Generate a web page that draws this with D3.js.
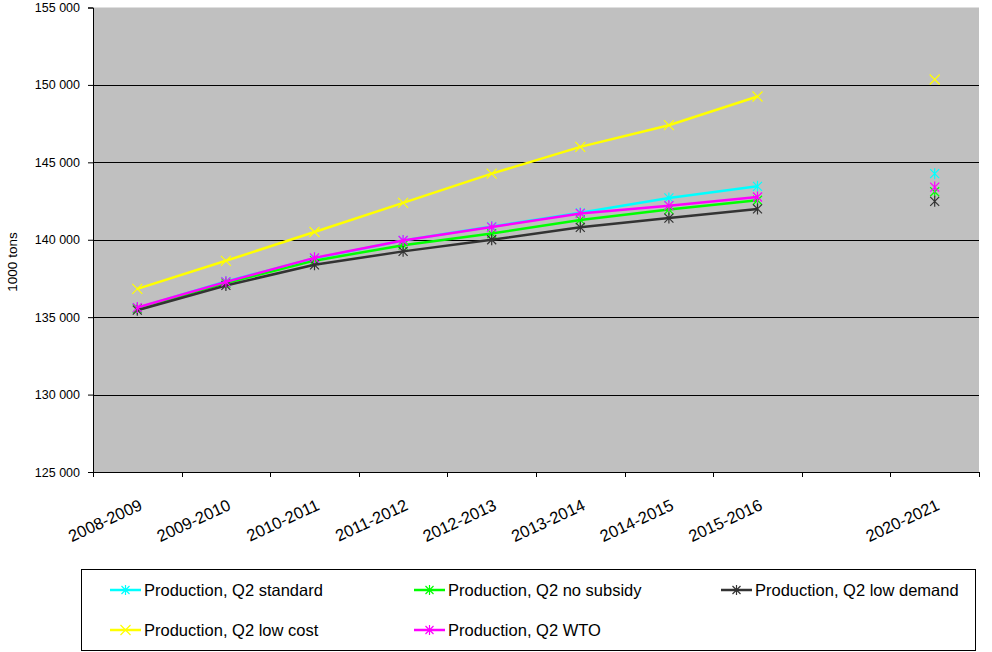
<!DOCTYPE html>
<html>
<head>
<meta charset="utf-8">
<script src="https://cdn.jsdelivr.net/npm/d3@7"></script>
<style>
    body { margin: 0; background: #fff; }
    #chart { width: 992px; height: 652px; }
    text { font-family: "Liberation Sans", Arial, sans-serif; fill: #000; }
</style>
</head>
<body>
<div id="chart"></div>
<script>
// categories (the empty one is the gap between 2015-2016 and 2020-2021)
const categories = ['2008-2009', '2009-2010', '2010-2011', '2011-2012', '2012-2013',
    '2013-2014', '2014-2015', '2015-2016', '', '2020-2021'];

const yTicks = [125000, 130000, 135000, 140000, 145000, 150000, 155000];

// values in 1000 tons
const standard   = [135600, 137300, 138800, 139950, 140850, 141750, 142700, 143450, null, 144270];
const noSubsidy  = [135550, 137200, 138650, 139650, 140400, 141280, 141950, 142550, null, 143100];
const lowDemand  = [135450, 137050, 138380, 139250, 140000, 140800, 141400, 141990, null, 142480];
const lowCost    = [136830, 138640, 140500, 142380, 144270, 146000, 147400, 149250, null, 150350];
const wto        = [135620, 137280, 138830, 139950, 140820, 141700, 142200, 142760, null, 143400];

const seriesNames = ['Production, Q2 standard', 'Production, Q2 no subsidy', 'Production, Q2 low demand',
    'Production, Q2 low cost', 'Production, Q2 WTO'];
const seriesColors = ['#00ffff', '#00ff00', '#333333', '#ffff00', '#ff00ff'];
const seriesMarkers = ['star', 'star', 'star', 'cross', 'star'];
const seriesValues = [standard, noSubsidy, lowDemand, lowCost, wto];

class ProductionChart {
    constructor(selector) {
        this.container = document.querySelector(selector);
        this.svg = d3.select(this.container)
            .append('svg')
            .attr('width', 992)
            .attr('height', 652);

        this.plot = { left: 93, right: 979, top: 7.5, bottom: 472 };

        this.x = d3.scaleBand()
            .domain(categories)
            .range([this.plot.left, this.plot.right]);
        this.y = d3.scaleLinear()
            .domain([125000, 155000])
            .range([this.plot.bottom, this.plot.top]);

        this.series = seriesNames.map((name, i) => ({
            name: name,
            color: seriesColors[i],
            marker: seriesMarkers[i],
            values: seriesValues[i].map((v, j) => ({ cat: categories[j], value: v }))
        }));

        this._drawPlotArea();
        this._drawAxes();
        this._drawSeries();
        this._drawLegend();
    }

    _drawPlotArea() {
        const p = this.plot;
        this.svg.append('rect')
            .attr('x', p.left)
            .attr('y', p.top)
            .attr('width', p.right - p.left)
            .attr('height', p.bottom - p.top)
            .attr('fill', '#c0c0c0');

        this.svg.append('g')
            .attr('class', 'grid')
            .selectAll('line')
            .data(yTicks.slice(1, -1))
            .join('line')
            .attr('x1', p.left)
            .attr('x2', p.right)
            .attr('y1', d => Math.round(this.y(d)) + 0.5)
            .attr('y2', d => Math.round(this.y(d)) + 0.5)
            .attr('stroke', '#000')
            .attr('stroke-width', 1);
    }

    _drawAxes() {
        const p = this.plot;
        const fmt = d3.formatLocale({ decimal: '.', thousands: ' ', grouping: [3], currency: ['', ''] }).format(',');

        const yAxis = this.svg.append('g')
            .attr('transform', `translate(${p.left},0)`)
            .call(d3.axisLeft(this.y).tickValues(yTicks).tickFormat(fmt).tickSize(5).tickPadding(8));
        yAxis.select('.domain').attr('stroke', '#000');
        yAxis.selectAll('.tick text')
            .style('font-size', '12.5px')
            .style('font-family', '"Liberation Sans", Arial, sans-serif');

        // category axis: ticks between the bands, labels at the centres
        const xg = this.svg.append('g').attr('class', 'x-axis');
        xg.append('line')
            .attr('x1', p.left).attr('x2', p.right)
            .attr('y1', p.bottom + 0.5).attr('y2', p.bottom + 0.5)
            .attr('stroke', '#000');

        const bounds = categories.map(c => this.x(c)).concat([p.right]);
        xg.selectAll('.tick')
            .data(bounds)
            .join('line')
            .attr('class', 'tick')
            .attr('x1', d => Math.round(d) + 0.5)
            .attr('x2', d => Math.round(d) + 0.5)
            .attr('y1', p.bottom)
            .attr('y2', p.bottom + 5)
            .attr('stroke', '#000');

        const bw = this.x.bandwidth();
        xg.selectAll('text')
            .data(categories.filter(c => c !== ''))
            .join('text')
            .attr('transform', d => `translate(${this.x(d) + bw / 2 + 6},509) rotate(-25)`)
            .attr('text-anchor', 'end')
            .style('font-size', '16.5px')
            .text(d => d);

        this.svg.append('text')
            .attr('transform', 'translate(17,262) rotate(-90)')
            .attr('text-anchor', 'middle')
            .style('font-size', '13.5px')
            .text('1000 tons');
    }

    _marker(sel, type, r) {
        const d = type === 'cross'
            ? `M${-r},${-r}L${r},${r}M${-r},${r}L${r},${-r}`
            : `M${-r},${-r}L${r},${r}M${-r},${r}L${r},${-r}M0,${-r - 1}L0,${r + 1}`;
        sel.append('path').attr('d', d);
    }

    _drawSeries() {
        const bw = this.x.bandwidth();
        const line = d3.line()
            .defined(d => d.value !== null)
            .x(d => this.x(d.cat) + bw / 2)
            .y(d => this.y(d.value));

        const groups = this.svg.append('g')
            .attr('class', 'series')
            .selectAll('g')
            .data(this.series)
            .join('g');

        groups.append('path')
            .attr('d', d => line(d.values))
            .attr('fill', 'none')
            .attr('stroke', d => d.color)
            .attr('stroke-width', 2.5);

        groups.each((s, i, nodes) => {
            const pts = d3.select(nodes[i]).selectAll('.pt')
                .data(s.values.filter(d => d.value !== null))
                .join('g')
                .attr('class', 'pt')
                .attr('transform', d => `translate(${this.x(d.cat) + bw / 2},${this.y(d.value)})`)
                .attr('stroke', s.color)
                .attr('stroke-width', 1.2)
                .attr('fill', 'none');
            this._marker(pts, s.marker, s.marker === 'cross' ? 5 : 4.5);
        });
    }

    _drawLegend() {
        const box = { x: 81, y: 569, w: 894, h: 81 };
        this.svg.append('rect')
            .attr('x', box.x + 0.5)
            .attr('y', box.y + 0.5)
            .attr('width', box.w)
            .attr('height', box.h)
            .attr('fill', '#fff')
            .attr('stroke', '#000');

        const colX = [110, 414, 721];
        const rowY = [590, 630];

        const items = this.svg.append('g')
            .attr('class', 'legend')
            .selectAll('g')
            .data(this.series)
            .join('g')
            .attr('transform', (d, i) => `translate(${colX[i % 3]},${rowY[Math.floor(i / 3)]})`);

        items.append('line')
            .attr('x1', 0).attr('x2', 31)
            .attr('stroke', d => d.color)
            .attr('stroke-width', 2.5);

        items.each((s, i, nodes) => {
            const m = d3.select(nodes[i]).append('g')
                .attr('transform', 'translate(15.5,0)')
                .attr('stroke', s.color)
                .attr('stroke-width', 1.2);
            this._marker(m, s.marker, s.marker === 'cross' ? 5 : 4);
        });

        items.append('text')
            .attr('x', 34)
            .attr('y', 6)
            .style('font-size', '16.5px')
            .text(d => d.name);
    }
}

new ProductionChart('#chart');
</script>
</body>
</html>
